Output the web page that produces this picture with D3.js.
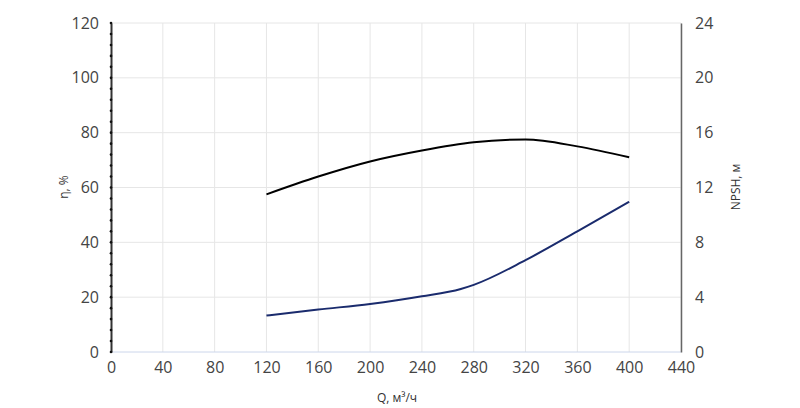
<!DOCTYPE html><html><head><meta charset="utf-8"><script src="https://cdn.jsdelivr.net/npm/d3@7"></script>
<style>body{margin:0;background:#fff}text{font-family:"Open Sans",sans-serif}</style></head><body><svg width="800" height="408"></svg>
<script>
const xTicks=[0,40,80,120,160,200,240,280,320,360,400,440];
const yLTicks=[0,20,40,60,80,100,120];
const yRTicks=[0,4,8,12,16,20,24];
const etaQ=[120,160,200,240,280,320,360,400];
const etaV=[57.5,64,69.5,73.5,76.5,77.5,75,71];
const npshQ=[120,160,200,240,270,280,320,360,400];
const npshV=[2.66,3.1,3.5,4.06,4.6,4.9,6.7,8.8,10.96];
const svg=d3.select("svg");
const x=d3.scaleLinear().domain([0,440]).range([111,681]);
const yL=d3.scaleLinear().domain([0,120]).range([352,23]);
const yR=d3.scaleLinear().domain([0,24]).range([352,23]);
const g=svg.append("g");
xTicks.slice(1).forEach(t=>g.append("line").attr("x1",x(t)).attr("x2",x(t)).attr("y1",23).attr("y2",352).attr("stroke","#e6e6e6"));
yLTicks.slice(1).forEach(t=>g.append("line").attr("x1",111).attr("x2",681).attr("y1",yL(t)).attr("y2",yL(t)).attr("stroke","#e6e6e6"));
svg.append("line").attr("x1",111).attr("x2",681).attr("y1",352).attr("y2",352).attr("stroke","#ccd6eb");
const ax=svg.append("g").attr("transform","translate(0,352)").call(d3.axisBottom(x).tickValues(xTicks).tickSize(0).tickPadding(10));
ax.select(".domain").remove();
const al=svg.append("g").attr("transform","translate(111,0)").call(d3.axisLeft(yL).tickValues(yLTicks).tickSize(0).tickPadding(12));
al.select(".domain").attr("stroke","#333").attr("stroke-width",2);
d3.range(0,121,4).forEach(t=>svg.append("circle").attr("cx",111).attr("cy",yL(t)).attr("r",1.3).attr("fill","#111"));
const ar=svg.append("g").attr("transform","translate(681,0)").call(d3.axisRight(yR).tickValues(yRTicks).tickSize(0).tickPadding(14));
ar.select(".domain").attr("stroke","#666").attr("stroke-width",1.5);
svg.selectAll(".tick text").attr("font-size",16).attr("fill","#444").attr("font-family","Open Sans");
const line=(xs,ys,sy)=>d3.line().curve(d3.curveMonotoneX)(xs.map((q,i)=>[x(q),sy(ys[i])]));
svg.append("path").attr("d",line(etaQ,etaV,yL)).attr("fill","none").attr("stroke","#000").attr("stroke-width",2);
svg.append("path").attr("d",line(npshQ,npshV,yR)).attr("fill","none").attr("stroke","#1a2b6d").attr("stroke-width",2);
svg.append("text").attr("transform","translate(68,187) rotate(-90)").attr("text-anchor","middle").attr("font-size",12).attr("fill","#333").text("η, %");
svg.append("text").attr("transform","translate(740,187) rotate(-90)").attr("text-anchor","middle").attr("font-size",12).attr("fill","#333").text("NPSH, м");
svg.append("text").attr("x",397).attr("y",402).attr("text-anchor","middle").attr("font-size",12).attr("fill","#333").text("Q, м³/ч");
</script></body></html>
